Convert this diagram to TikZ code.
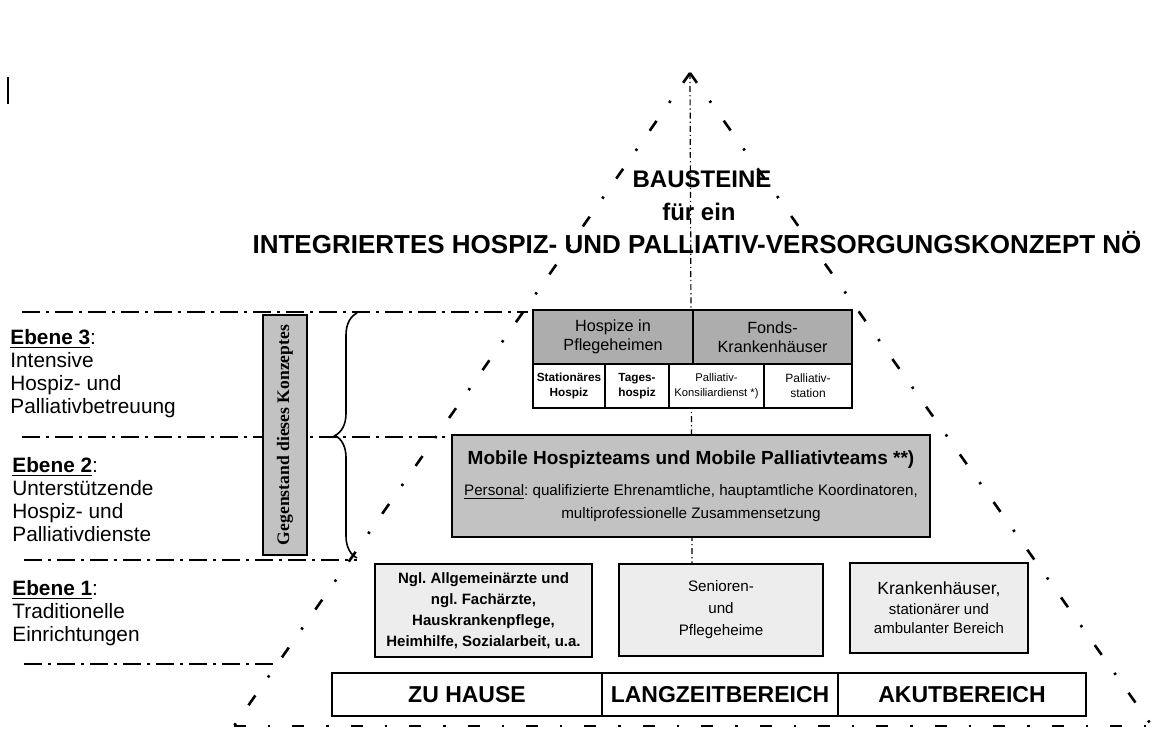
\documentclass[tikz,border=0pt]{standalone}
\usepackage{fontspec}
\setmainfont{Liberation Sans}
\newfontfamily\serifbold{Liberation Serif}
\usetikzlibrary{positioning,decorations.pathreplacing}
\definecolor{darkdots}{gray}{0.68}
\definecolor{middots}{gray}{0.76}
\definecolor{lightdots}{gray}{0.93}
\tikzset{
  edge/.style={line width=1.3pt, dash pattern=on 6pt off 11pt on 1.2pt off 11pt},
  axis/.style={line width=0.6pt, dash pattern=on 3pt off 1.5pt on 0.6pt off 1.5pt},
  levelline/.style={line width=1.1pt, dash pattern=on 9pt off 3pt on 1.5pt off 3pt},
  cell/.style={draw, line width=1.1pt, inner sep=0pt, outer sep=0pt, anchor=north west, align=center},
  ebene/.style={anchor=north west, align=left, inner sep=0pt, font=\fontsize{10.4}{11.5}\selectfont},
  headline/.style={font=\bfseries\fontsize{12}{14}\selectfont, inner sep=0pt}
}
\newcommand{\ebenehead}[1]{\underline{\textbf{Ebene #1}}:}
\frenchspacing

\begin{document}
\begin{tikzpicture}[x=0.5pt, y=-0.5pt]
  \useasboundingbox (0,0) rectangle (1162,738);

  % pyramid
  \coordinate (apex) at (690,73);
  \coordinate (bl) at (234,726);
  \coordinate (br) at (1152,726);
  \draw[edge] (apex) -- (bl);
  \draw[edge] (apex) -- (br);
  \draw[edge] (bl) -- (br);

  \draw[line width=0.8pt] (8,77) -- (8,104);

  % title
  \node[headline] (bausteine) at (702,179) {BAUSTEINE};
  \node[headline] (fuer) at (699,212) {für ein};
  \node[headline, font=\bfseries\fontsize{13}{15}\selectfont] (konzept) at (697,243)
    {INTEGRIERTES HOSPIZ- UND PALLIATIV-VERSORGUNGSKONZEPT NÖ};

  % level lines
  \draw[levelline] (22,312) -- (528,312);
  \draw[levelline] (22,437) -- (450,437);
  \draw[levelline] (24,560) -- (357,560);
  \draw[levelline] (24,664) -- (278,664);

  \node[ebene] (e3) at (10,329) {\ebenehead{3}\\Intensive\\Hospiz- und\\Palliativbetreuung};
  \node[ebene] (e2) at (12,457) {\ebenehead{2}\\Unterstützende\\Hospiz- und\\Palliativdienste};
  \node[ebene] (e1) at (12,580) {\ebenehead{1}\\Traditionelle\\Einrichtungen};

  \node[draw, line width=0.9pt, fill=middots, rotate=90, minimum width=120pt, minimum height=22pt,
        inner sep=0pt, font=\serifbold\bfseries\fontsize{8.8}{10}\selectfont] (gegenstand) at (285,435)
    {Gegenstand dieses Konzeptes};

  \coordinate (bracebot) at (357,558);
  \coordinate (bracetop) at (357,313);
  \draw[decorate, decoration={brace, amplitude=11pt}, line width=0.8pt] (bracebot) -- (bracetop);

  \draw[axis] (apex) -- (692,565);

  % level 3
  \node[cell, fill=darkdots, minimum width=80pt, minimum height=27pt,
        font=\fontsize{8.1}{9.5}\selectfont] (hospize) at (533,310) {\raisebox{-2pt}{Hospize in}\\\raisebox{-2pt}{Pflegeheimen}};
  \node[cell, fill=darkdots, minimum width=79.5pt, minimum height=27pt, right=0pt of hospize,
        font=\fontsize{8.1}{9.5}\selectfont] (fonds) {\raisebox{-2pt}{Fonds-}\\\raisebox{-2pt}{Krankenhäuser}};
  \node[cell, fill=white, minimum width=36pt, minimum height=22pt,
        font=\bfseries\fontsize{5.9}{7.5}\selectfont] (stathosp) at (hospize.south west) {Stationäres\\Hospiz};
  \node[cell, fill=white, minimum width=32pt, minimum height=22pt, right=0pt of stathosp,
        font=\bfseries\fontsize{5.9}{7.5}\selectfont] (tageshosp) {Tages-\\hospiz};
  \node[cell, fill=white, minimum width=47.5pt, minimum height=22pt, right=0pt of tageshosp,
        font=\fontsize{5.6}{7.5}\selectfont] (konsil) {Palliativ-\\Konsiliardienst *)};
  \node[cell, fill=white, minimum width=44pt, minimum height=22pt, right=0pt of konsil,
        font=\fontsize{6}{7.5}\selectfont] (palstat) {Palliativ-\\station};

  % level 2
  \node[cell, fill=middots, line width=1.4pt, minimum width=239pt, minimum height=51pt,
        font=\fontsize{7.6}{11.5}\selectfont] (mobile) at (452,435)
    {{\bfseries\fontsize{9.5}{12}\selectfont Mobile Hospizteams und Mobile Palliativteams **)}\\[4pt]
     \underline{Personal}: qualifizierte Ehrenamtliche, hauptamtliche Koordinatoren,\\
     multiprofessionelle Zusammensetzung};

  % level 1
  \node[cell, fill=lightdots, minimum width=108.5pt, minimum height=46.5pt,
        font=\bfseries\fontsize{7.5}{10.5}\selectfont] (ngl) at (375,564)
    {Ngl. Allgemeinärzte und\\ngl. Fachärzte,\\Hauskrankenpflege,\\Heimhilfe, Sozialarbeit, u.a.};
  \node[cell, fill=lightdots, minimum width=102pt, minimum height=46pt,
        font=\fontsize{7.6}{10}\selectfont] (senioren) at (619,564) {Senioren-\\[1pt]und\\[1pt]Pflegeheime};
  \node[cell, fill=lightdots, minimum width=89pt, minimum height=45pt,
        font=\fontsize{7.5}{9.8}\selectfont] (kh) at (850,563)
    {{\fontsize{8.8}{10}\selectfont Krankenhäuser,}\\stationärer und\\ambulanter Bereich};

  % settings
  \node[cell, line width=1pt, minimum width=135pt, minimum height=21.5pt,
        font=\bfseries\fontsize{11.5}{13}\selectfont] (zuhause) at (332,673) {ZU HAUSE};
  \node[cell, line width=1pt, minimum width=118pt, minimum height=21.5pt, right=0pt of zuhause,
        font=\bfseries\fontsize{11.5}{13}\selectfont] (langzeit) {LANGZEITBEREICH};
  \node[cell, line width=1pt, minimum width=124pt, minimum height=21.5pt, right=0pt of langzeit,
        font=\bfseries\fontsize{11.5}{13}\selectfont] (akut) {AKUTBEREICH};
\end{tikzpicture}
\end{document}
